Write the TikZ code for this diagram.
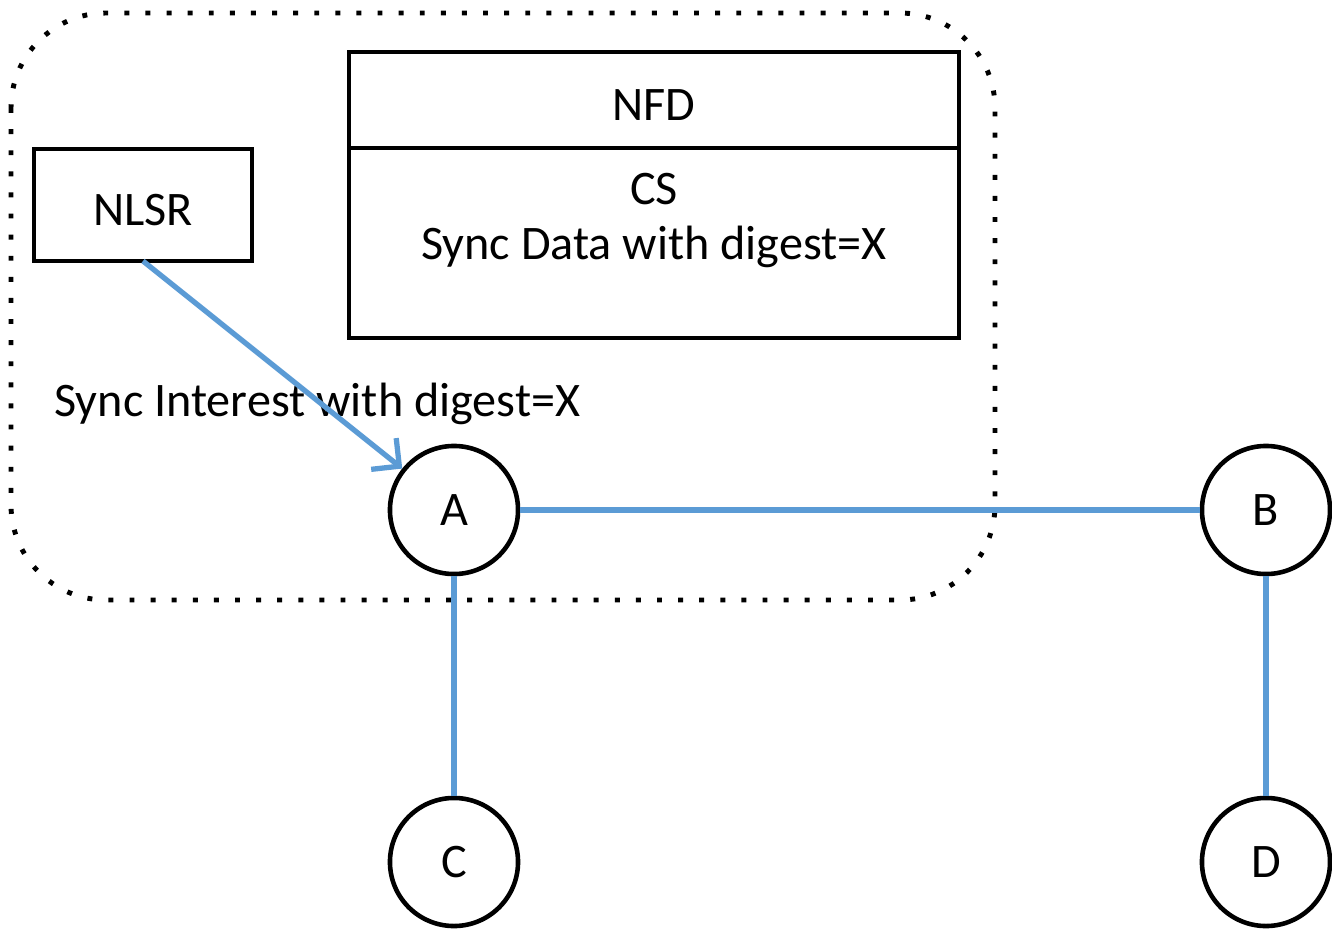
\documentclass[tikz,border=0pt]{standalone}
\usepackage{fontspec}
\setmainfont{Carlito}
\usetikzlibrary{arrows.meta,positioning}
\definecolor{linkblue}{RGB}{91,155,213}

\begin{document}
\begin{tikzpicture}[x=0.01cm,y=-0.01cm]
    \tikzset{box/.style= {draw, rectangle
    , line width=1.3pt
    , inner sep=0pt, outer sep=0pt
    , minimum width=6.1cm
    , text height=11.6pt
      }
    , station/.style={draw, circle, line width=1.3pt
    , minimum size=1.28cm, inner sep=0pt}
    , link/.style={draw=linkblue, line width=1.5pt}
    , every node/.style={font=\fontsize{13.7}{15.6}\selectfont}
    }

\useasboundingbox (0,0) rectangle (1332,930);
% router boundary
\draw[line width=1.4pt, dash pattern=on 1.4pt off 4.6pt, rounded corners=0.95cm]
  (11,13) rectangle (995,600);

\node [box, minimum height=0.96cm] (nfd) at (654,100) {NFD};
\node [box, minimum height=1.9cm, below=0pt of nfd] (cs) {};
\node [align=center, below=0.13cm of cs.north] (cstext) {CS\\Sync Data with digest=X};
\node [box, minimum width=2.18cm, minimum height=1.12cm] (nlsr) at (143,205) {NLSR};

\node [station] (a) at (454,510) {A};
\node [station] (b) at (1266,510) {B};
\node [station] (c) at (454,862) {C};
\node [station] (d) at (1266,862) {D};

\node [anchor=west] (interest) at (42,404) {Sync Interest with digest=X};

 \path[link, -{Straight Barb[length=2mm,width=4mm]}]
  (nlsr.south) -- (a);
 \path[link]
  (a) -- (b) (a) -- (c) (b) -- (d);
\end{tikzpicture}
\end{document}
